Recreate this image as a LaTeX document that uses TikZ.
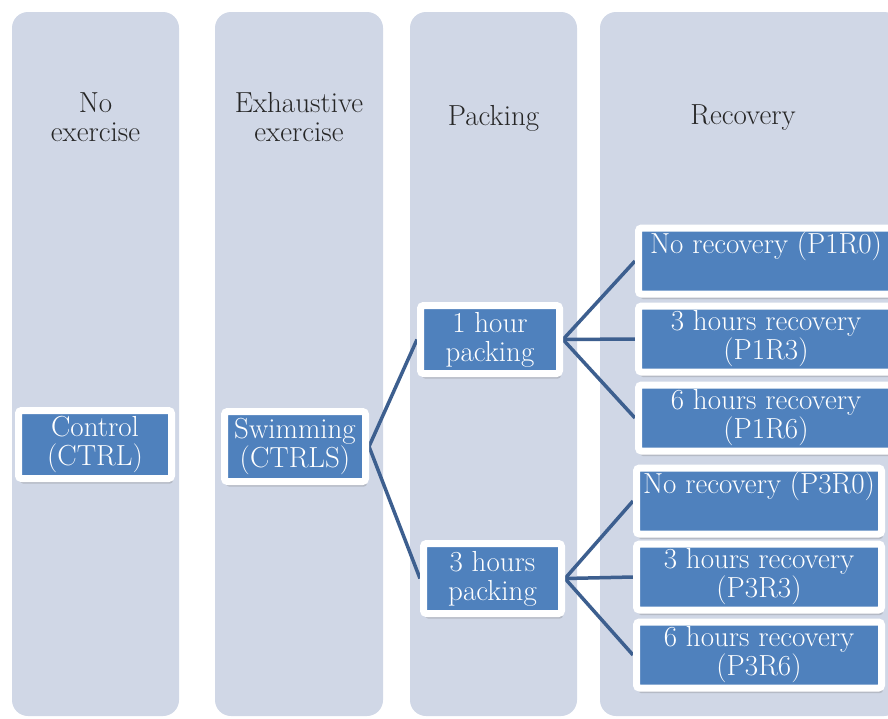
\documentclass[tikz,border=0pt]{standalone}
\usetikzlibrary{shadows}

\definecolor{panelblue}{HTML}{D0D7E6}
\definecolor{boxblue}{HTML}{4F81BD}
\definecolor{linkblue}{HTML}{3D5F8F}
\definecolor{headtext}{HTML}{262626}

\pgfdeclarelayer{panels}
\pgfdeclarelayer{links}
\pgfsetlayers{panels,links,main}

\begin{document}
\begin{tikzpicture}[
  x=1pt, y=-1pt,
  font=\fontsize{29}{29}\selectfont,
  panel/.style={fill=panelblue, rounded corners=16pt, inner sep=0pt,
       minimum height=704pt},
  head/.style={text=headtext, align=center},
  box/.style={draw=white, line width=7pt, fill=boxblue, text=white,
       align=center, inner sep=0pt, rounded corners=3pt,
       drop shadow={shadow xshift=1.5pt, shadow yshift=-5pt,
       opacity=.25, fill=black!60}},
  recbox/.style={box, minimum height=66pt},
  link/.style={draw=linkblue, line width=3.5pt}
]
\useasboundingbox (0,0) rectangle (888,718);
\begin{pgfonlayer}{panels}
\node[panel, minimum width=167pt] (noex) at (95.5,364) {};
\node[panel, minimum width=168pt] (exh) at (299,364) {};
\node[panel, minimum width=167pt] (pack) at (493.5,364) {};
\node[panel, minimum width=300pt] (recov) at (750,364) {};
\end{pgfonlayer}
\node[head] (noexhead) at (95.5,117) {No\\exercise};
\node[head] (exhhead) at (299,117) {Exhaustive\\exercise};
\node[head] (packhead) at (493.5,118) {Packing};
\node[head] (recovhead) at (743,118) {Recovery};
\node[box, minimum width=153pt, minimum height=68pt] (ctrl)
  at (95,444.5) {Control\\(CTRL)};
\node[box, minimum width=141pt, minimum height=70pt] (swim)
  at (295,446.5) {Swimming\\(CTRLS)};
\node[box, minimum width=139pt, minimum height=68pt] (pack1)
  at (490,339.5) {1 hour\\packing};
\node[box, minimum width=138pt, minimum height=70pt] (pack3)
  at (492.5,578.5) {3 hours\\packing};
\node[recbox, minimum width=255pt] (p1r0)
  at (766,261) {No recovery (P1R0)\\\strut};
\node[recbox, minimum width=255pt] (p1r3)
  at (766,339) {3 hours recovery\\(P1R3)};
\node[recbox, minimum width=255pt] (p1r6)
  at (766,418) {6 hours recovery\\(P1R6)};
\node[recbox, minimum width=245pt] (p3r0)
  at (759,501) {No recovery (P3R0)\\\strut};
\node[recbox, minimum width=245pt] (p3r3)
  at (759,577) {3 hours recovery\\(P3R3)};
\node[recbox, minimum width=245pt] (p3r6)
  at (759,655) {6 hours recovery\\(P3R6)};
\begin{pgfonlayer}{links}
\draw[link] (swim.east) -- (pack1.west);
\draw[link] (swim.east) -- (pack3.west);
\draw[link] (pack1.east) -- (p1r0.west);
\draw[link] (pack1.east) -- (p1r3.west);
\draw[link] (pack1.east) -- (p1r6.west);
\draw[link] (pack3.east) -- (p3r0.west);
\draw[link] (pack3.east) -- (p3r3.west);
\draw[link] (pack3.east) -- (p3r6.west);
\end{pgfonlayer}
\end{tikzpicture}
\end{document}
